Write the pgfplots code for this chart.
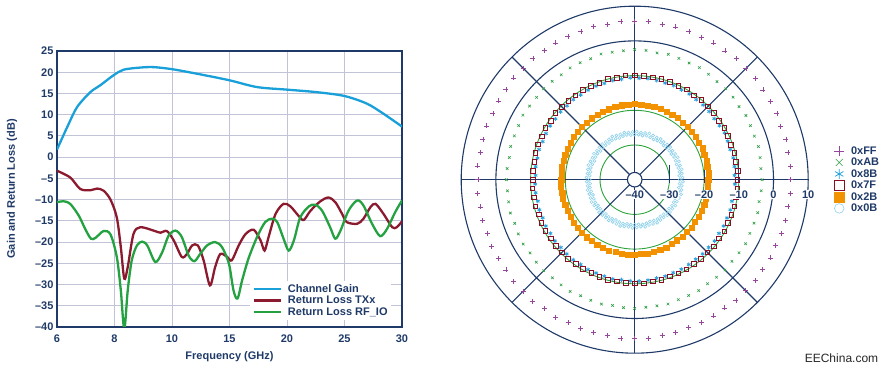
\documentclass[border=0pt]{standalone}
\usepackage{fontspec}
\setmainfont{Liberation Sans}
\usepackage{pgfplots}
\pgfplotsset{compat=1.18}
\usepackage{pgfplotstable}
\definecolor{navy}{HTML}{1F3A68}
\definecolor{gridc}{HTML}{C3C3D8}
\definecolor{cgain}{HTML}{1AA0D8}
\definecolor{ctx}{HTML}{8B1A2E}
\definecolor{crf}{HTML}{24A241}
\definecolor{cFF}{HTML}{95489B}
\definecolor{cAB}{HTML}{2E9E44}
\definecolor{c8B}{HTML}{2AA2DC}
\definecolor{c7F}{HTML}{8B0C23}
\definecolor{c2B}{HTML}{F39200}
\definecolor{c0B}{HTML}{8ED1EA}
\definecolor{cring}{HTML}{2CA33C}
\newcommand\fs{\fontsize{11}{13}\selectfont\bfseries}

\pgfplotstableread{
f g
6.0 1.8
6.35 7.0
6.7 11.8
7.16 15.3
7.5 16.9
7.97 19.3
8.32 20.6
8.9 21.1
9.36 21.2
10.05 20.7
12.45 19.5
15 18.1
17.4 16.5
20 15.9
22.6 15.3
25 14.4
26.95 12.6
28.4 10.2
30 7.2
}\gain

\pgfplotstableread{
f g
6.0 -3.2
6.46 -4.8
6.81 -7.5
7.16 -7.8
7.39 -7.4
7.62 -7.9
7.86 -10
8.08 -14.2
8.22 -21.2
8.34 -28.6
8.46 -25.9
8.66 -18.1
8.9 -16.5
9.36 -17.3
9.6 -17.8
9.82 -17.4
10.15 -19.6
10.85 -23.5
11.3 -22.8
11.75 -20.8
12.25 -20.8
12.75 -24.3
13.3 -30.2
13.75 -25.9
14.2 -22.8
14.8 -23.5
15.2 -24.3
15.8 -20.8
16.4 -18.1
17.1 -17.1
17.7 -19.6
18.05 -22
18.4 -18.8
19.0 -13.4
19.7 -11
20.3 -11.6
21.0 -13.8
21.45 -14.8
22.05 -12.6
22.9 -10.4
23.6 -9.5
24.2 -10.6
24.8 -13.4
25.2 -15.3
26.1 -15.7
26.65 -14.5
27.25 -11.8
27.7 -11.0
28.4 -13.4
29.15 -16.5
29.55 -16.5
30 -15.1
}\txx

\pgfplotstableread{
f g
6.0 -10.6
6.24 -10.4
6.46 -11
6.76 -13.8
6.98 -16.9
7.18 -19.2
7.34 -19
7.62 -17.4
7.86 -18.2
8.08 -23.5
8.22 -31.4
8.34 -40.5
8.46 -31.4
8.6 -24.3
8.78 -20.8
8.96 -19.9
9.14 -20.8
9.42 -24.7
9.66 -22.4
9.88 -18.5
10.3 -17.3
10.85 -18.8
11.45 -23.2
11.95 -24.5
12.45 -22.8
13.05 -20.8
13.75 -20.0
14.35 -21.2
14.95 -25.1
15.35 -31.4
15.7 -33.3
16.1 -29
16.65 -23.9
17.4 -18.8
18.1 -15.3
18.7 -14.5
19.15 -15.3
19.7 -19.2
20.15 -22
20.6 -19.6
21.15 -14.2
21.9 -11.6
22.45 -11.2
23.05 -12.6
23.75 -16.5
24.2 -19.2
24.65 -17.3
25.35 -12.6
26.1 -10.2
26.65 -11.4
27.4 -15.7
28.1 -18.6
28.7 -16.9
29.4 -13
30 -10.2
}\rfio

% polar data: angle (deg) and level (dB) of each code
\pgfplotstableread{
a FF AB B8 F7 B2 B0 C0
0 4.8 -3.3 -11.2 -10.4 -18.8 -27.0 -26.2
5 5.1 -3.5 -11.0 -10.2 -18.7 -27.1 -26.3
10 4.8 -3.3 -10.9 -10.4 -18.8 -26.9 -26.1
15 5.1 -3.1 -11.1 -10.2 -18.6 -27.0 -26.3
20 4.8 -3.3 -11.0 -10.5 -18.7 -27.2 -26.2
25 5.2 -3.2 -10.8 -10.3 -18.5 -27.0 -26.0
30 5.1 -3.0 -11.0 -10.2 -18.6 -26.9 -26.2
35 5.1 -3.3 -11.1 -10.4 -18.5 -27.1 -26.3
40 5.4 -3.0 -10.9 -10.2 -18.5 -27.0 -26.1
45 5.3 -2.9 -10.8 -10.2 -18.4 -27.0 -26.2
50 5.5 -3.1 -10.9 -10.0 -18.5 -27.1 -26.3
55 5.3 -2.9 -10.7 -10.3 -18.3 -26.9 -26.1
60 5.5 -2.7 -10.8 -10.0 -18.4 -27.0 -26.3
65 5.3 -2.9 -10.6 -10.2 -18.3 -27.2 -26.2
70 5.6 -2.8 -10.8 -10.1 -18.3 -27.0 -26.0
75 5.6 -2.6 -10.7 -10.0 -18.2 -26.9 -26.2
80 5.5 -2.9 -10.6 -10.1 -18.3 -27.1 -26.3
85 5.9 -2.6 -10.7 -10.0 -18.2 -27.0 -26.1
90 5.7 -2.5 -10.6 -10.0 -18.2 -27.0 -26.2
95 5.9 -2.7 -10.8 -9.9 -18.3 -27.1 -26.3
100 5.5 -2.7 -10.7 -10.2 -18.2 -26.9 -26.1
105 5.7 -2.5 -10.9 -10.0 -18.3 -27.0 -26.3
110 5.4 -2.9 -10.8 -10.3 -18.4 -27.2 -26.2
115 5.6 -2.8 -10.9 -10.1 -18.3 -27.0 -26.0
120 5.5 -2.8 -11.0 -10.1 -18.5 -26.9 -26.2
125 5.4 -3.1 -10.9 -10.3 -18.4 -27.1 -26.3
130 5.6 -3.0 -11.1 -10.3 -18.5 -27.0 -26.1
135 5.4 -2.9 -11.0 -10.3 -18.5 -27.0 -26.2
140 5.6 -3.1 -11.2 -10.2 -18.6 -27.1 -26.3
145 5.3 -3.0 -11.1 -10.5 -18.5 -26.9 -26.1
150 5.4 -2.8 -11.2 -10.3 -18.7 -27.0 -26.3
155 5.1 -3.1 -11.3 -10.6 -18.6 -27.2 -26.2
160 5.4 -3.1 -11.1 -10.4 -18.7 -27.0 -26.0
165 5.3 -3.0 -11.3 -10.4 -18.8 -26.9 -26.2
170 5.1 -3.3 -11.2 -10.7 -18.7 -27.1 -26.3
175 5.4 -3.1 -11.4 -10.6 -18.8 -27.0 -26.1
180 5.2 -3.0 -11.3 -10.6 -18.8 -27.0 -26.2
185 5.4 -3.2 -11.2 -10.4 -18.7 -27.1 -26.3
190 5.2 -3.1 -11.4 -10.6 -18.8 -26.9 -26.1
195 5.4 -2.9 -11.2 -10.4 -18.6 -27.0 -26.3
200 5.1 -3.2 -11.3 -10.6 -18.7 -27.2 -26.2
205 5.5 -3.0 -11.1 -10.4 -18.6 -27.0 -26.0
210 5.4 -2.9 -11.2 -10.3 -18.6 -26.9 -26.2
215 5.3 -3.2 -11.0 -10.5 -18.5 -27.1 -26.3
220 5.7 -3.0 -11.1 -10.4 -18.6 -27.0 -26.1
225 5.5 -2.9 -11.0 -10.3 -18.5 -27.0 -26.2
230 5.7 -3.1 -10.9 -10.2 -18.4 -27.1 -26.3
235 5.4 -3.0 -11.0 -10.4 -18.5 -26.9 -26.1
240 5.7 -2.8 -10.8 -10.2 -18.4 -27.0 -26.3
245 5.4 -3.1 -10.9 -10.4 -18.4 -27.2 -26.2
250 5.7 -3.0 -10.8 -10.2 -18.3 -27.0 -26.0
255 5.6 -2.9 -10.7 -10.1 -18.4 -26.9 -26.2
260 5.6 -3.2 -10.9 -10.2 -18.3 -27.1 -26.3
265 5.9 -3.0 -10.8 -10.1 -18.4 -27.0 -26.1
270 5.7 -2.9 -10.7 -10.1 -18.4 -27.0 -26.2
275 5.8 -3.1 -10.8 -10.0 -18.5 -27.1 -26.3
280 5.5 -3.1 -10.9 -10.2 -18.4 -26.9 -26.1
285 5.6 -2.9 -10.8 -10.1 -18.5 -27.0 -26.3
290 5.2 -3.2 -11.0 -10.3 -18.6 -27.2 -26.2
295 5.5 -3.2 -10.9 -10.2 -18.5 -27.0 -26.0
300 5.3 -3.1 -11.0 -10.1 -18.6 -26.9 -26.2
305 5.1 -3.4 -11.1 -10.3 -18.7 -27.1 -26.3
310 5.4 -3.3 -11.0 -10.2 -18.6 -27.0 -26.1
315 5.1 -3.2 -11.1 -10.3 -18.7 -27.0 -26.2
320 5.3 -3.4 -11.0 -10.1 -18.6 -27.1 -26.3
325 4.9 -3.3 -11.2 -10.4 -18.8 -26.9 -26.1
330 5.1 -3.1 -11.1 -10.2 -18.7 -27.0 -26.3
335 4.8 -3.4 -11.2 -10.4 -18.8 -27.2 -26.2
340 5.0 -3.4 -11.1 -10.3 -18.7 -27.0 -26.0
345 4.9 -3.3 -11.3 -10.2 -18.9 -26.9 -26.2
350 4.8 -3.6 -11.2 -10.4 -18.8 -27.1 -26.3
355 5.0 -3.4 -11.1 -10.3 -18.8 -27.0 -26.1
}\polar

\begin{document}
\begin{tikzpicture}
\useasboundingbox (0,0) rectangle (887pt,371pt);

% ---------------- left: Cartesian plot ----------------
\begin{axis}[
  at={(57pt,44pt)}, anchor=south west,
  scale only axis, width=345pt, height=276pt,
  xmin=6, xmax=30, ymin=-40, ymax=25,
  x coord trafo/.code={\pgfmathparse{#1<10 ? (#1-6)/2 : 2+(#1-10)/5}},
  xtick={6,8,10,15,20,25,30},
  xticklabels={6,8,10,15,20,25,30},
  ytick={-40,-35,-30,-25,-20,-15,-10,-5,0,5,10,15,20,25},
  yticklabels={\textendash40,\textendash35,\textendash30,\textendash25,\textendash20,\textendash15,\textendash10,\textendash5,0,5,10,15,20,25},
  grid=major,
  major grid style={draw=gridc, line width=0.9pt},
  major tick length=0pt,
  axis line style={draw=navy, line width=1.1pt},
  tick label style={font=\fs, text=navy},
  xticklabel style={yshift=-4pt},
  xlabel={Frequency (GHz)},
  ylabel={Gain and Return Loss (dB)},
  every axis x label/.style={at={(axis description cs:0.5,-0.109)}, anchor=center, font=\fs, text=navy},
  every axis y label/.style={at={(axis description cs:-0.13,0.5)}, anchor=center, rotate=90, font=\fs, text=navy},
  legend style={at={(axis description cs:1,0.025)}, xshift=-11pt, anchor=south east, draw=none, fill=white,
     font=\fs, text=navy, inner sep=2pt, row sep=0pt, nodes={inner sep=1.2pt},
     /tikz/every odd column/.append style={column sep=5pt}},
  legend cell align=left,
  legend image code/.code={\draw[#1] (0pt,0pt) -- (27pt,0pt);},
]
\addplot[smooth, tension=0.5, line width=2.3pt, color=cgain] table[x=f,y=g] {\gain};
\addlegendentry{Channel Gain}
\addplot[smooth, tension=0.5, line width=2.3pt, color=ctx] table[x=f,y=g] {\txx};
\addlegendentry{Return Loss TXx}
\addplot[smooth, tension=0.5, line width=2.3pt, color=crf] table[x=f,y=g] {\rfio};
\addlegendentry{Return Loss RF\_IO}
\end{axis}

% ---------------- right: polar plot ----------------
\begin{axis}[
  at={(634.7pt,191.3pt)}, anchor=center,
  scale only axis, width=347pt, height=347pt,
  xmin=-50, xmax=50, ymin=-50, ymax=50,
  hide axis, clip=false,
  legend style={at={(axis cs:57.5,0)}, anchor=west, draw=none, fill=none,
     font=\fs, text=navy, inner sep=0pt, row sep=0.3pt, nodes={inner sep=1pt},
     /tikz/every odd column/.append style={column sep=6pt}},
  legend cell align=left,
  legend image post style={mark size=4.8pt},
]
\draw[cring, line width=0.9pt] (axis cs:0,0) circle[radius=34.7pt];
\draw[cring, line width=0.9pt] (axis cs:0,0) circle[radius=69.4pt];
\draw[cring, line width=0.9pt] (axis cs:0,0) circle[radius=104.1pt];
\draw[navy, line width=1.1pt] (axis cs:0,0) circle[radius=138.8pt];
\draw[navy, line width=1.1pt] (axis cs:0,0) circle[radius=173.5pt];
\draw[navy, line width=1.1pt] (axis cs:-50,0) -- (axis cs:50,0);
\draw[navy, line width=1.1pt] (axis cs:0,-50) -- (axis cs:0,50);
\draw[navy, line width=1.1pt] (axis cs:-35.36,-35.36) -- (axis cs:35.36,35.36);
\draw[navy, line width=1.1pt] (axis cs:-35.36,35.36) -- (axis cs:35.36,-35.36);
\draw[navy, line width=1.1pt] (axis cs:10,-1) -- (axis cs:10,4.3);
\draw[navy, line width=1.1pt] (axis cs:20,-1) -- (axis cs:20,4.3);
\draw[navy, line width=1.1pt] (axis cs:30,-1) -- (axis cs:30,4.3);
\draw[navy, line width=1.1pt, fill=white] (axis cs:0,0) circle[radius=7.3pt];

\addplot[only marks, mark=+, mark size=2.5pt, color=cFF, line width=0.6pt]
  table[x expr={(\thisrow{FF}+40)*cos(\thisrow{a})}, y expr={(\thisrow{FF}+40)*sin(\thisrow{a})}] {\polar};
\addlegendentry{0xFF}
\addplot[only marks, mark=x, mark size=1.8pt, color=cAB, line width=0.6pt]
  table[x expr={(\thisrow{AB}+40)*cos(\thisrow{a})}, y expr={(\thisrow{AB}+40)*sin(\thisrow{a})}] {\polar};
\addlegendentry{0xAB}
\addplot[only marks, mark=asterisk, mark size=2.1pt, color=c8B, line width=0.8pt]
  table[x expr={(\thisrow{B8}+40)*cos(\thisrow{a}+2.5)}, y expr={(\thisrow{B8}+40)*sin(\thisrow{a}+2.5)}] {\polar};
\addlegendentry{0x8B}
\addplot[only marks, mark=square, mark size=2.3pt, color=c7F, line width=0.9pt, mark options={fill=white}]
  table[x expr={(\thisrow{F7}+40)*cos(\thisrow{a})}, y expr={(\thisrow{F7}+40)*sin(\thisrow{a})}] {\polar};
\addlegendentry{0x7F}
\addplot[only marks, mark=square*, mark size=2.6pt, color=c2B, mark options={draw=c2B, fill=c2B}]
  table[x expr={(\thisrow{B2}+40)*cos(\thisrow{a})}, y expr={(\thisrow{B2}+40)*sin(\thisrow{a})}] {\polar};
\addlegendentry{0x2B}
\addplot[only marks, mark=o, mark size=1.5pt, color=c0B, line width=0.6pt]
  table[x expr={(\thisrow{B0}+40)*cos(\thisrow{a})}, y expr={(\thisrow{B0}+40)*sin(\thisrow{a})}] {\polar};
\addlegendentry{0x0B}
\addplot[only marks, mark=o, mark size=1.5pt, color=c0B, line width=0.6pt, forget plot]
  table[x expr={(\thisrow{C0}+40)*cos(\thisrow{a}+2.5)}, y expr={(\thisrow{C0}+40)*sin(\thisrow{a}+2.5)}] {\polar};
\end{axis}

% radial scale labels of the polar plot (drawn last, on top of the marks)
\begin{scope}[every node/.style={fill=white, inner sep=0.8pt, font=\fs, text=navy}]
\node at (634.7pt,176.3pt) {\textendash40};
\node at (669.4pt,176.3pt) {\textendash30};
\node at (704.1pt,176.3pt) {\textendash20};
\node at (738.8pt,176.3pt) {\textendash10};
\node at (773.5pt,176.3pt) {0};
\node at (808.2pt,176.3pt) {10};
\end{scope}

\node[font=\fontsize{12}{14}\selectfont, text=black!85] at (841.5pt,13pt) {EEChina.com};
\end{tikzpicture}
\end{document}
